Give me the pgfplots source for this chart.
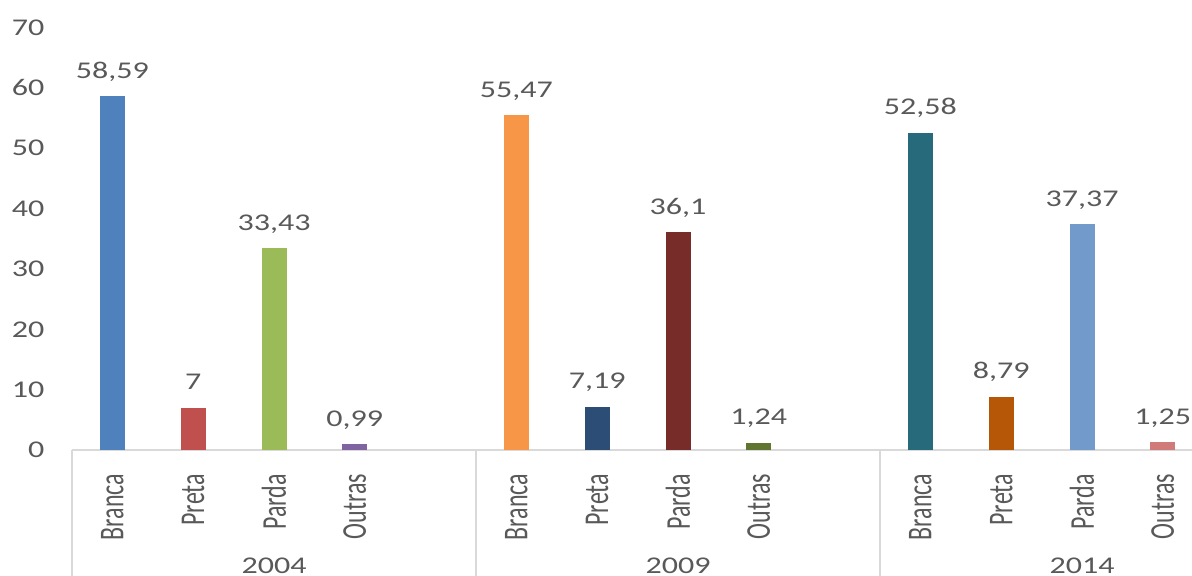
\documentclass[border=0pt]{standalone}
\usepackage{pgfplots}
\pgfplotsset{compat=1.18}
\usepackage{fontspec}
\setmainfont{Carlito}

\definecolor{txt}{HTML}{595959}
\definecolor{axl}{HTML}{D9D9D9}
% 2004
\definecolor{ca}{HTML}{4F81BD}
\definecolor{cb}{HTML}{C0504D}
\definecolor{cc}{HTML}{9BBB59}
\definecolor{cd}{HTML}{8064A2}
% 2009
\definecolor{ce}{HTML}{F79646}
\definecolor{cf}{HTML}{2C4D75}
\definecolor{cg}{HTML}{772C2A}
\definecolor{ch}{HTML}{5F7530}
% 2014
\definecolor{ci}{HTML}{276A7C}
\definecolor{cj}{HTML}{B65708}
\definecolor{ck}{HTML}{729ACA}
\definecolor{cl}{HTML}{D07B79}

\tikzset{lbl/.style={font=\fontsize{12}{14}\selectfont, text=txt}}

\begin{document}
\begin{tikzpicture}
\path[use as bounding box, clip] (0,0) rectangle (596pt,287.5pt);
\begin{axis}[
    at={(36pt,62.5pt)}, anchor=south west,
    scale only axis, width=606pt, height=211.25pt,
    xmin=-0.5, xmax=14.5, ymin=0, ymax=70,
    ybar, bar width=12.5pt, bar shift=0pt,
    axis x line*=bottom, axis y line*=left,
    x axis line style={draw=axl, line width=1pt, -},
    y axis line style={draw=none},
    tick style={draw=none},
    ytick={0,10,...,70},
    xtick={0,1,2,3,5,6,7,8,10,11,12,13},
    xticklabels={Branca,Preta,Parda,Outras,Branca,Preta,Parda,Outras,Branca,Preta,Parda,Outras},
    /pgf/number format/assume math mode=true,
    xticklabel style={yshift=-7.5pt, rotate=90, anchor=east, inner sep=0pt, yscale=1.45, lbl},
    yticklabel style={anchor=east, inner sep=0pt, xshift=-13.5pt, xscale=1.335, lbl},
    point meta=explicit symbolic,
    nodes near coords,
    nodes near coords style={anchor=base, inner sep=0pt, yshift=9pt, xscale=1.335, lbl},
    clip=false,
]
% 2004
\addplot[fill=ca, draw=none] coordinates {(0,58.59) [58,59]};
\addplot[fill=cb, draw=none] coordinates {(1,7) [7]};
\addplot[fill=cc, draw=none] coordinates {(2,33.43) [33,43]};
\addplot[fill=cd, draw=none] coordinates {(3,0.99) [0,99]};
% 2009
\addplot[fill=ce, draw=none] coordinates {(5,55.47) [55,47]};
\addplot[fill=cf, draw=none] coordinates {(6,7.19) [7,19]};
\addplot[fill=cg, draw=none] coordinates {(7,36.1) [36,1]};
\addplot[fill=ch, draw=none] coordinates {(8,1.24) [1,24]};
% 2014
\addplot[fill=ci, draw=none] coordinates {(10,52.58) [52,58]};
\addplot[fill=cj, draw=none] coordinates {(11,8.79) [8,79]};
\addplot[fill=ck, draw=none] coordinates {(12,37.37) [37,37]};
\addplot[fill=cl, draw=none] coordinates {(13,1.25) [1,25]};

% separadores dos grupos
\draw[axl, line width=1pt] (axis cs:-0.5,0) -- ++(0pt,-70pt);
\draw[axl, line width=1pt] (axis cs:4.5,0) -- ++(0pt,-70pt);
\draw[axl, line width=1pt] (axis cs:9.5,0) -- ++(0pt,-70pt);
\draw[axl, line width=1pt] (axis cs:14.5,0) -- ++(0pt,-70pt);
% anos
\node[yshift=-61.5pt, anchor=base, inner sep=0pt, xscale=1.335, lbl] at (axis cs:2,0) {2004};
\node[yshift=-61.5pt, anchor=base, inner sep=0pt, xscale=1.335, lbl] at (axis cs:7,0) {2009};
\node[yshift=-61.5pt, anchor=base, inner sep=0pt, xscale=1.335, lbl] at (axis cs:12,0) {2014};
\end{axis}
\end{tikzpicture}
\end{document}
